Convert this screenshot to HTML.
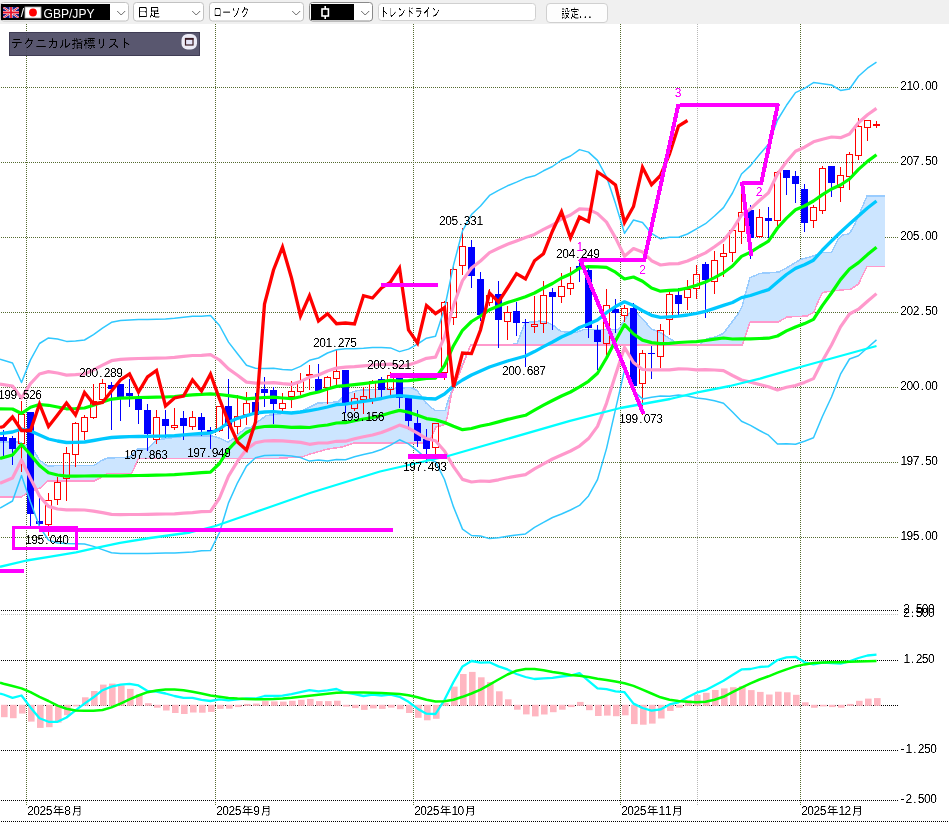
<!DOCTYPE html>
<html lang="ja"><head><meta charset="utf-8"><title>GBP/JPY chart</title>
<style>
html,body{margin:0;padding:0;background:#fff;overflow:hidden}
body{width:949px;height:822px;font-family:"Liberation Sans","IPAGothic",sans-serif}
svg{display:block}
</style></head><body>
<svg width="949" height="822" viewBox="0 0 949 822" shape-rendering="crispEdges">
<defs><filter id="px" x="0" y="0" width="100%" height="100%" filterUnits="userSpaceOnUse" color-interpolation-filters="sRGB"><feComponentTransfer><feFuncA type="linear" slope="2.4" intercept="-0.7"/></feComponentTransfer></filter></defs>
<rect x="0" y="0" width="949" height="822" fill="#ffffff"/>
<g stroke="#556b2f" stroke-width="1" stroke-dasharray="1 1" fill="none">
<line x1="1" y1="87.5" x2="898" y2="87.5"/>
<line x1="1" y1="162.5" x2="898" y2="162.5"/>
<line x1="1" y1="237.5" x2="898" y2="237.5"/>
<line x1="1" y1="312.5" x2="898" y2="312.5"/>
<line x1="1" y1="387.5" x2="898" y2="387.5"/>
<line x1="1" y1="462.5" x2="898" y2="462.5"/>
<line x1="1" y1="537.5" x2="898" y2="537.5"/>
<line x1="26.5" y1="24" x2="26.5" y2="805"/>
<line x1="215.5" y1="24" x2="215.5" y2="805"/>
<line x1="413.5" y1="24" x2="413.5" y2="805"/>
<line x1="620.5" y1="24" x2="620.5" y2="805"/>
<line x1="800.5" y1="24" x2="800.5" y2="805"/>
</g>
<line x1="697.5" y1="24" x2="697.5" y2="805" stroke="#b8b8b8" stroke-width="1" stroke-dasharray="1 1"/>
<g stroke="#000000" stroke-width="1" stroke-dasharray="1 1" fill="none">
<line x1="1" y1="610.5" x2="898" y2="610.5"/>
<line x1="1" y1="660.5" x2="898" y2="660.5"/>
<line x1="1" y1="705.5" x2="898" y2="705.5"/>
<line x1="1" y1="750.5" x2="898" y2="750.5"/>
<line x1="1" y1="800.5" x2="898" y2="800.5"/>
<line x1="1" y1="821.5" x2="949" y2="821.5"/>
</g>
<line x1="1" y1="614.5" x2="898" y2="614.5" stroke="#c0c0c0" stroke-width="1" stroke-dasharray="1 1"/>
<polygon points="0.0,441.8 19.0,441.8 21.5,443.3 27.0,446.5 34.0,450.6 39.0,459.5 40.0,460.3 47.0,465.8 48.0,465.8 94.0,465.5 100.0,461.5 101.0,460.8 107.6,458.0 120.0,457.6 130.0,457.0 131.6,455.4 138.0,449.0 138.5,449.0 148.0,449.0 156.0,440.0 170.0,438.0 190.0,435.8 210.4,435.8 216.7,437.0 228.0,442.0 233.0,439.0 240.8,432.0 245.8,428.2 251.0,427.6 256.0,423.0 266.0,415.8 271.0,415.0 274.0,414.6 302.0,411.0 310.0,407.0 318.0,403.0 328.0,402.5 338.0,402.0 342.0,398.0 346.0,394.0 354.0,391.5 357.7,390.4 375.4,389.4 403.0,387.8 411.0,387.6 417.0,390.4 426.0,403.0 428.6,405.2 435.0,410.6 436.0,410.6 445.0,410.6 447.6,402.4 449.0,398.0 451.4,392.0 470.6,345.0 512.5,344.4 517.0,343.7 525.0,322.8 540.0,321.0 547.6,322.4 554.0,326.0 561.0,331.6 569.0,332.0 576.7,332.3 584.0,329.5 618.5,329.5 628.6,314.0 633.5,310.0 638.0,314.0 651.5,329.0 660.0,332.3 672.7,340.5 677.0,344.4 700.0,344.4 706.8,338.6 714.4,337.3 723.3,333.5 731.0,323.4 738.5,313.3 742.3,305.7 746.0,291.8 749.9,277.8 760.0,273.4 768.9,272.8 778.0,272.1 779.0,272.0 787.0,267.6 788.0,267.0 800.4,259.5 807.0,257.7 813.5,256.0 814.0,255.8 817.0,254.6 822.5,252.5 831.5,252.5 838.0,239.7 840.5,237.3 843.0,235.0 849.5,233.7 850.5,231.9 855.0,224.0 858.5,215.8 861.0,210.0 867.0,196.0 884.7,196.0 884.7,266.5 867.0,266.5 861.0,278.9 858.5,284.0 855.0,286.4 850.5,289.4 849.5,289.5 843.0,289.9 840.5,290.0 838.0,290.3 831.5,291.2 822.5,292.4 817.0,304.0 814.0,312.0 813.5,312.3 807.0,316.0 800.4,316.3 788.0,316.9 787.0,317.0 779.0,321.6 778.0,322.2 768.9,322.2 760.0,322.2 749.9,322.2 746.0,333.9 742.3,345.0 738.5,345.0 731.0,345.0 723.3,345.0 714.4,345.0 706.8,345.0 700.0,345.0 677.0,345.0 672.7,345.0 660.0,345.0 651.5,345.0 638.0,345.0 633.5,345.0 628.6,345.0 618.5,345.0 584.0,345.0 576.7,345.0 569.0,345.0 561.0,345.0 554.0,345.0 547.6,345.0 540.0,345.0 525.0,345.0 517.0,345.0 512.5,345.0 470.6,345.0 451.4,394.0 449.0,407.7 447.6,415.7 445.0,424.5 436.0,427.0 435.0,429.2 428.6,443.0 426.0,443.0 417.0,443.0 411.0,443.0 403.0,443.0 375.4,443.0 357.7,443.0 354.0,443.0 346.0,445.7 342.0,447.0 338.0,447.6 328.0,449.0 318.0,451.8 310.0,454.0 302.0,457.0 274.0,458.5 271.0,458.5 266.0,458.5 256.0,458.5 251.0,458.5 245.8,458.5 240.8,458.5 233.0,458.5 228.0,458.5 216.7,458.5 210.4,458.5 190.0,458.5 170.0,458.5 156.0,458.5 148.0,458.5 138.5,458.5 138.0,459.6 131.6,473.5 130.0,473.5 120.0,473.5 107.6,473.4 101.0,477.4 100.0,478.0 94.0,481.0 48.0,481.0 47.0,481.9 40.0,488.0 39.0,488.4 34.0,490.3 27.0,493.0 21.5,497.0 19.0,497.0 0.0,497.0" fill="#cce5ff" stroke="none"/>
<polyline points="0.0,441.8 19.0,441.8 34.0,450.6 39.0,459.5 47.0,465.8 94.0,465.5 101.0,460.8 107.6,458.0 120.0,457.6 130.0,457.0 138.0,449.0 148.0,449.0 156.0,440.0 170.0,438.0 190.0,435.8 210.4,435.8 216.7,437.0 228.0,442.0 233.0,439.0 240.8,432.0 245.8,428.2 251.0,427.6 256.0,423.0 266.0,415.8 271.0,415.0 302.0,411.0 310.0,407.0 318.0,403.0 338.0,402.0 346.0,394.0 357.7,390.4 375.4,389.4 403.0,387.8 411.0,387.6 417.0,390.4 426.0,403.0 435.0,410.6 445.0,410.6 449.0,398.0 451.4,392.0 470.6,345.0 512.5,344.4 517.0,343.7 525.0,322.8 540.0,321.0 547.6,322.4 554.0,326.0 561.0,331.6 569.0,332.0 576.7,332.3 584.0,329.5 618.5,329.5 628.6,314.0 633.5,310.0 638.0,314.0 651.5,329.0 660.0,332.3 672.7,340.5 677.0,344.4 700.0,344.4 706.8,338.6 714.4,337.3 723.3,333.5 731.0,323.4 738.5,313.3 742.3,305.7 746.0,291.8 749.9,277.8 760.0,273.4 768.9,272.8 779.0,272.0 788.0,267.0 800.4,259.5 813.5,256.0 822.5,252.5 831.5,252.5 838.0,239.7 843.0,235.0 849.5,233.7 855.0,224.0 861.0,210.0 867.0,196.0 884.7,196.0" fill="none" stroke="#99ccff" stroke-width="1.5" shape-rendering="crispEdges" stroke-linejoin="round" />
<polyline points="0.0,497.0 21.5,497.0 27.0,493.0 40.0,488.0 48.0,481.0 94.0,481.0 100.0,478.0 107.6,473.4 131.6,473.5 138.5,458.5 274.0,458.5 302.0,457.0 310.0,454.0 328.0,449.0 342.0,447.0 354.0,443.0 428.6,443.0 436.0,427.0 445.0,424.5 447.6,415.7 451.4,394.0 470.6,345.0 742.3,345.0 749.9,322.2 778.0,322.2 787.0,317.0 807.0,316.0 814.0,312.0 817.0,304.0 822.5,292.4 840.5,290.0 850.5,289.4 858.5,284.0 867.0,266.5 884.7,266.5" fill="none" stroke="#ff99cc" stroke-width="1.5" shape-rendering="crispEdges" stroke-linejoin="round" />
<line x1="3.5" y1="430.4" x2="3.5" y2="455.7" stroke="#0000ff" stroke-width="1"/>
<rect x="0" y="436.7" width="7" height="3.8" fill="#0000ff"/>
<line x1="12.5" y1="436.0" x2="12.5" y2="464.6" stroke="#0000ff" stroke-width="1"/>
<rect x="9" y="438.0" width="7" height="10.7" fill="#0000ff"/>
<line x1="21.5" y1="401.3" x2="21.5" y2="414.0" stroke="#ff0000" stroke-width="1"/>
<line x1="21.5" y1="443.7" x2="21.5" y2="472.0" stroke="#ff0000" stroke-width="1"/>
<rect x="18.5" y="414.0" width="6" height="29.7" fill="none" stroke="#ff0000" stroke-width="1"/>
<line x1="30.5" y1="412.0" x2="30.5" y2="527.0" stroke="#0000ff" stroke-width="1"/>
<rect x="27" y="412.0" width="7" height="102.0" fill="#0000ff"/>
<line x1="39.5" y1="498.0" x2="39.5" y2="531.0" stroke="#0000ff" stroke-width="1"/>
<rect x="36" y="521.0" width="7" height="3.0" fill="#0000ff"/>
<line x1="48.5" y1="493.0" x2="48.5" y2="500.0" stroke="#ff0000" stroke-width="1"/>
<line x1="48.5" y1="524.0" x2="48.5" y2="536.0" stroke="#ff0000" stroke-width="1"/>
<rect x="45.5" y="500.0" width="6" height="24.0" fill="none" stroke="#ff0000" stroke-width="1"/>
<line x1="57.5" y1="477.0" x2="57.5" y2="482.4" stroke="#ff0000" stroke-width="1"/>
<line x1="57.5" y1="499.5" x2="57.5" y2="504.5" stroke="#ff0000" stroke-width="1"/>
<rect x="54.5" y="482.4" width="6" height="17.1" fill="none" stroke="#ff0000" stroke-width="1"/>
<line x1="66.5" y1="447.2" x2="66.5" y2="453.4" stroke="#ff0000" stroke-width="1"/>
<line x1="66.5" y1="478.5" x2="66.5" y2="500.6" stroke="#ff0000" stroke-width="1"/>
<rect x="63.5" y="453.4" width="6" height="25.1" fill="none" stroke="#ff0000" stroke-width="1"/>
<line x1="75.5" y1="422.0" x2="75.5" y2="423.4" stroke="#ff0000" stroke-width="1"/>
<line x1="75.5" y1="454.4" x2="75.5" y2="466.5" stroke="#ff0000" stroke-width="1"/>
<rect x="72.5" y="423.4" width="6" height="31.0" fill="none" stroke="#ff0000" stroke-width="1"/>
<line x1="84.5" y1="415.0" x2="84.5" y2="417.5" stroke="#ff0000" stroke-width="1"/>
<line x1="84.5" y1="431.0" x2="84.5" y2="440.0" stroke="#ff0000" stroke-width="1"/>
<rect x="81.5" y="417.5" width="6" height="13.5" fill="none" stroke="#ff0000" stroke-width="1"/>
<line x1="93.5" y1="384.0" x2="93.5" y2="401.0" stroke="#ff0000" stroke-width="1"/>
<line x1="93.5" y1="417.5" x2="93.5" y2="418.5" stroke="#ff0000" stroke-width="1"/>
<rect x="90.5" y="401.0" width="6" height="16.5" fill="none" stroke="#ff0000" stroke-width="1"/>
<line x1="102.5" y1="379.0" x2="102.5" y2="383.7" stroke="#ff0000" stroke-width="1"/>
<rect x="99.5" y="383.7" width="6" height="15.8" fill="none" stroke="#ff0000" stroke-width="1"/>
<line x1="111.5" y1="381.7" x2="111.5" y2="429.7" stroke="#0000ff" stroke-width="1"/>
<rect x="108" y="385.0" width="7" height="4.0" fill="#0000ff"/>
<line x1="120.5" y1="384.0" x2="120.5" y2="420.7" stroke="#0000ff" stroke-width="1"/>
<rect x="117" y="384.0" width="7" height="12.7" fill="#0000ff"/>
<line x1="129.5" y1="378.7" x2="129.5" y2="406.7" stroke="#0000ff" stroke-width="1"/>
<rect x="126" y="393.0" width="7" height="2.7" fill="#0000ff"/>
<line x1="138.5" y1="395.0" x2="138.5" y2="423.7" stroke="#0000ff" stroke-width="1"/>
<rect x="135" y="399.0" width="7" height="10.5" fill="#0000ff"/>
<line x1="147.5" y1="404.0" x2="147.5" y2="451.0" stroke="#0000ff" stroke-width="1"/>
<rect x="144" y="409.7" width="7" height="24.3" fill="#0000ff"/>
<line x1="156.5" y1="410.0" x2="156.5" y2="417.5" stroke="#ff0000" stroke-width="1"/>
<line x1="156.5" y1="439.0" x2="156.5" y2="443.7" stroke="#ff0000" stroke-width="1"/>
<rect x="153.5" y="417.5" width="6" height="21.5" fill="none" stroke="#ff0000" stroke-width="1"/>
<line x1="165.5" y1="409.7" x2="165.5" y2="438.0" stroke="#0000ff" stroke-width="1"/>
<rect x="162" y="419.0" width="7" height="6.7" fill="#0000ff"/>
<line x1="174.5" y1="408.0" x2="174.5" y2="425.5" stroke="#ff0000" stroke-width="1"/>
<line x1="174.5" y1="427.5" x2="174.5" y2="429.7" stroke="#ff0000" stroke-width="1"/>
<rect x="171.5" y="425.5" width="6" height="2.0" fill="none" stroke="#ff0000" stroke-width="1"/>
<line x1="183.5" y1="411.0" x2="183.5" y2="439.5" stroke="#0000ff" stroke-width="1"/>
<rect x="180" y="418.0" width="7" height="7.7" fill="#0000ff"/>
<line x1="192.5" y1="411.0" x2="192.5" y2="417.5" stroke="#ff0000" stroke-width="1"/>
<line x1="192.5" y1="426.7" x2="192.5" y2="430.0" stroke="#ff0000" stroke-width="1"/>
<rect x="189.5" y="417.5" width="6" height="9.2" fill="none" stroke="#ff0000" stroke-width="1"/>
<line x1="201.5" y1="412.5" x2="201.5" y2="436.0" stroke="#0000ff" stroke-width="1"/>
<rect x="198" y="417.0" width="7" height="12.7" fill="#0000ff"/>
<line x1="210.5" y1="426.5" x2="210.5" y2="449.0" stroke="#0000ff" stroke-width="1"/>
<rect x="207" y="429.7" width="7" height="2.0" fill="#0000ff"/>
<line x1="219.5" y1="430.5" x2="219.5" y2="432.0" stroke="#ff0000" stroke-width="1"/>
<rect x="216.5" y="406.0" width="6" height="24.5" fill="none" stroke="#ff0000" stroke-width="1"/>
<line x1="228.5" y1="379.0" x2="228.5" y2="438.5" stroke="#0000ff" stroke-width="1"/>
<rect x="225" y="406.0" width="7" height="20.0" fill="#0000ff"/>
<line x1="237.5" y1="395.0" x2="237.5" y2="416.5" stroke="#ff0000" stroke-width="1"/>
<line x1="237.5" y1="426.5" x2="237.5" y2="433.7" stroke="#ff0000" stroke-width="1"/>
<rect x="234.5" y="416.5" width="6" height="10.0" fill="none" stroke="#ff0000" stroke-width="1"/>
<line x1="246.5" y1="392.0" x2="246.5" y2="403.0" stroke="#ff0000" stroke-width="1"/>
<line x1="246.5" y1="414.5" x2="246.5" y2="425.0" stroke="#ff0000" stroke-width="1"/>
<rect x="243.5" y="403.0" width="6" height="11.5" fill="none" stroke="#ff0000" stroke-width="1"/>
<line x1="255.5" y1="393.0" x2="255.5" y2="422.0" stroke="#0000ff" stroke-width="1"/>
<rect x="252" y="402.0" width="7" height="13.0" fill="#0000ff"/>
<line x1="264.5" y1="376.7" x2="264.5" y2="406.5" stroke="#0000ff" stroke-width="1"/>
<rect x="261" y="389.0" width="7" height="4.0" fill="#0000ff"/>
<line x1="273.5" y1="387.0" x2="273.5" y2="423.7" stroke="#0000ff" stroke-width="1"/>
<rect x="270" y="389.5" width="7" height="14.0" fill="#0000ff"/>
<line x1="282.5" y1="393.0" x2="282.5" y2="403.0" stroke="#ff0000" stroke-width="1"/>
<line x1="282.5" y1="408.0" x2="282.5" y2="410.7" stroke="#ff0000" stroke-width="1"/>
<rect x="279.5" y="403.0" width="6" height="5.0" fill="none" stroke="#ff0000" stroke-width="1"/>
<line x1="291.5" y1="381.0" x2="291.5" y2="391.5" stroke="#ff0000" stroke-width="1"/>
<line x1="291.5" y1="396.0" x2="291.5" y2="408.0" stroke="#ff0000" stroke-width="1"/>
<rect x="288.5" y="391.5" width="6" height="4.5" fill="none" stroke="#ff0000" stroke-width="1"/>
<line x1="300.5" y1="373.0" x2="300.5" y2="381.0" stroke="#ff0000" stroke-width="1"/>
<line x1="300.5" y1="391.7" x2="300.5" y2="395.0" stroke="#ff0000" stroke-width="1"/>
<rect x="297.5" y="381.0" width="6" height="10.7" fill="none" stroke="#ff0000" stroke-width="1"/>
<line x1="309.5" y1="365.0" x2="309.5" y2="374.5" stroke="#ff0000" stroke-width="1"/>
<line x1="309.5" y1="375.7" x2="309.5" y2="390.0" stroke="#ff0000" stroke-width="1"/>
<rect x="306" y="374" width="7" height="2" fill="#ff0000"/>
<line x1="318.5" y1="364.0" x2="318.5" y2="392.0" stroke="#0000ff" stroke-width="1"/>
<rect x="315" y="378.7" width="7" height="12.3" fill="#0000ff"/>
<line x1="327.5" y1="376.0" x2="327.5" y2="377.0" stroke="#ff0000" stroke-width="1"/>
<line x1="327.5" y1="387.0" x2="327.5" y2="403.7" stroke="#ff0000" stroke-width="1"/>
<rect x="324.5" y="377.0" width="6" height="10.0" fill="none" stroke="#ff0000" stroke-width="1"/>
<line x1="336.5" y1="349.3" x2="336.5" y2="371.0" stroke="#ff0000" stroke-width="1"/>
<line x1="336.5" y1="378.0" x2="336.5" y2="385.0" stroke="#ff0000" stroke-width="1"/>
<rect x="333.5" y="371.0" width="6" height="7.0" fill="none" stroke="#ff0000" stroke-width="1"/>
<line x1="345.5" y1="370.0" x2="345.5" y2="412.8" stroke="#0000ff" stroke-width="1"/>
<rect x="342" y="370.0" width="7" height="34.5" fill="#0000ff"/>
<line x1="354.5" y1="393.0" x2="354.5" y2="398.0" stroke="#ff0000" stroke-width="1"/>
<line x1="354.5" y1="408.0" x2="354.5" y2="411.0" stroke="#ff0000" stroke-width="1"/>
<rect x="351.5" y="398.0" width="6" height="10.0" fill="none" stroke="#ff0000" stroke-width="1"/>
<line x1="363.5" y1="387.0" x2="363.5" y2="396.5" stroke="#ff0000" stroke-width="1"/>
<line x1="363.5" y1="399.5" x2="363.5" y2="414.0" stroke="#ff0000" stroke-width="1"/>
<rect x="360.5" y="396.5" width="6" height="3.0" fill="none" stroke="#ff0000" stroke-width="1"/>
<line x1="372.5" y1="380.0" x2="372.5" y2="381.0" stroke="#ff0000" stroke-width="1"/>
<line x1="372.5" y1="398.0" x2="372.5" y2="404.0" stroke="#ff0000" stroke-width="1"/>
<rect x="369.5" y="381.0" width="6" height="17.0" fill="none" stroke="#ff0000" stroke-width="1"/>
<line x1="381.5" y1="377.0" x2="381.5" y2="396.7" stroke="#0000ff" stroke-width="1"/>
<rect x="378" y="379.0" width="7" height="11.4" fill="#0000ff"/>
<line x1="390.5" y1="371.9" x2="390.5" y2="375.2" stroke="#ff0000" stroke-width="1"/>
<line x1="390.5" y1="389.4" x2="390.5" y2="394.8" stroke="#ff0000" stroke-width="1"/>
<rect x="387.5" y="375.2" width="6" height="14.2" fill="none" stroke="#ff0000" stroke-width="1"/>
<line x1="399.5" y1="374.0" x2="399.5" y2="407.5" stroke="#0000ff" stroke-width="1"/>
<rect x="396" y="377.7" width="7" height="20.3" fill="#0000ff"/>
<line x1="408.5" y1="396.0" x2="408.5" y2="430.0" stroke="#0000ff" stroke-width="1"/>
<rect x="405" y="398.0" width="7" height="23.0" fill="#0000ff"/>
<line x1="417.5" y1="410.0" x2="417.5" y2="447.3" stroke="#0000ff" stroke-width="1"/>
<rect x="414" y="423.3" width="7" height="17.7" fill="#0000ff"/>
<line x1="426.5" y1="429.0" x2="426.5" y2="462.7" stroke="#0000ff" stroke-width="1"/>
<rect x="423" y="439.0" width="7" height="9.6" fill="#0000ff"/>
<line x1="435.5" y1="447.3" x2="435.5" y2="454.0" stroke="#ff0000" stroke-width="1"/>
<rect x="432.5" y="423.3" width="6" height="24.0" fill="none" stroke="#ff0000" stroke-width="1"/>
<line x1="444.5" y1="301.0" x2="444.5" y2="302.0" stroke="#ff0000" stroke-width="1"/>
<line x1="444.5" y1="372.0" x2="444.5" y2="380.0" stroke="#ff0000" stroke-width="1"/>
<rect x="441.5" y="302.0" width="6" height="70.0" fill="none" stroke="#ff0000" stroke-width="1"/>
<line x1="453.5" y1="265.0" x2="453.5" y2="269.0" stroke="#ff0000" stroke-width="1"/>
<line x1="453.5" y1="317.0" x2="453.5" y2="325.0" stroke="#ff0000" stroke-width="1"/>
<rect x="450.5" y="269.0" width="6" height="48.0" fill="none" stroke="#ff0000" stroke-width="1"/>
<line x1="462.5" y1="227.6" x2="462.5" y2="246.5" stroke="#ff0000" stroke-width="1"/>
<line x1="462.5" y1="265.5" x2="462.5" y2="275.0" stroke="#ff0000" stroke-width="1"/>
<rect x="459.5" y="246.5" width="6" height="19.0" fill="none" stroke="#ff0000" stroke-width="1"/>
<line x1="471.5" y1="240.0" x2="471.5" y2="287.7" stroke="#0000ff" stroke-width="1"/>
<rect x="468" y="247.0" width="7" height="29.0" fill="#0000ff"/>
<line x1="480.5" y1="272.0" x2="480.5" y2="321.0" stroke="#0000ff" stroke-width="1"/>
<rect x="477" y="279.0" width="7" height="36.0" fill="#0000ff"/>
<line x1="489.5" y1="289.0" x2="489.5" y2="295.7" stroke="#ff0000" stroke-width="1"/>
<line x1="489.5" y1="302.0" x2="489.5" y2="306.0" stroke="#ff0000" stroke-width="1"/>
<rect x="486.5" y="295.7" width="6" height="6.3" fill="none" stroke="#ff0000" stroke-width="1"/>
<line x1="498.5" y1="281.0" x2="498.5" y2="348.0" stroke="#0000ff" stroke-width="1"/>
<rect x="495" y="294.0" width="7" height="26.0" fill="#0000ff"/>
<line x1="507.5" y1="306.0" x2="507.5" y2="312.4" stroke="#ff0000" stroke-width="1"/>
<line x1="507.5" y1="321.4" x2="507.5" y2="340.0" stroke="#ff0000" stroke-width="1"/>
<rect x="504.5" y="312.4" width="6" height="9.0" fill="none" stroke="#ff0000" stroke-width="1"/>
<line x1="516.5" y1="302.0" x2="516.5" y2="336.0" stroke="#0000ff" stroke-width="1"/>
<rect x="513" y="311.4" width="7" height="11.2" fill="#0000ff"/>
<line x1="525.5" y1="319.0" x2="525.5" y2="367.0" stroke="#0000ff" stroke-width="1"/>
<rect x="522" y="322.0" width="7" height="1.0" fill="#0000ff"/>
<line x1="534.5" y1="296.0" x2="534.5" y2="324.0" stroke="#ff0000" stroke-width="1"/>
<line x1="534.5" y1="326.0" x2="534.5" y2="333.0" stroke="#ff0000" stroke-width="1"/>
<rect x="531.5" y="324.0" width="6" height="2.0" fill="none" stroke="#ff0000" stroke-width="1"/>
<line x1="543.5" y1="281.0" x2="543.5" y2="295.0" stroke="#ff0000" stroke-width="1"/>
<line x1="543.5" y1="323.6" x2="543.5" y2="333.0" stroke="#ff0000" stroke-width="1"/>
<rect x="540.5" y="295.0" width="6" height="28.6" fill="none" stroke="#ff0000" stroke-width="1"/>
<line x1="552.5" y1="288.0" x2="552.5" y2="329.7" stroke="#0000ff" stroke-width="1"/>
<rect x="549" y="292.4" width="7" height="4.2" fill="#0000ff"/>
<line x1="561.5" y1="272.8" x2="561.5" y2="286.5" stroke="#ff0000" stroke-width="1"/>
<line x1="561.5" y1="296.6" x2="561.5" y2="303.0" stroke="#ff0000" stroke-width="1"/>
<rect x="558.5" y="286.5" width="6" height="10.1" fill="none" stroke="#ff0000" stroke-width="1"/>
<line x1="570.5" y1="267.0" x2="570.5" y2="283.3" stroke="#ff0000" stroke-width="1"/>
<line x1="570.5" y1="288.6" x2="570.5" y2="295.0" stroke="#ff0000" stroke-width="1"/>
<rect x="567.5" y="283.3" width="6" height="5.3" fill="none" stroke="#ff0000" stroke-width="1"/>
<line x1="579.5" y1="260.0" x2="579.5" y2="281.6" stroke="#0000ff" stroke-width="1"/>
<rect x="576" y="266.0" width="7" height="2.5" fill="#0000ff"/>
<line x1="588.5" y1="268.0" x2="588.5" y2="338.0" stroke="#0000ff" stroke-width="1"/>
<rect x="585" y="269.6" width="7" height="58.4" fill="#0000ff"/>
<line x1="597.5" y1="325.0" x2="597.5" y2="370.0" stroke="#0000ff" stroke-width="1"/>
<rect x="594" y="330.0" width="7" height="12.0" fill="#0000ff"/>
<line x1="606.5" y1="289.0" x2="606.5" y2="305.4" stroke="#ff0000" stroke-width="1"/>
<line x1="606.5" y1="343.0" x2="606.5" y2="355.0" stroke="#ff0000" stroke-width="1"/>
<rect x="603.5" y="305.4" width="6" height="37.6" fill="none" stroke="#ff0000" stroke-width="1"/>
<line x1="615.5" y1="299.0" x2="615.5" y2="333.0" stroke="#0000ff" stroke-width="1"/>
<rect x="612" y="309.0" width="7" height="4.0" fill="#0000ff"/>
<line x1="624.5" y1="305.0" x2="624.5" y2="308.4" stroke="#ff0000" stroke-width="1"/>
<line x1="624.5" y1="315.6" x2="624.5" y2="322.4" stroke="#ff0000" stroke-width="1"/>
<rect x="621.5" y="308.4" width="6" height="7.2" fill="none" stroke="#ff0000" stroke-width="1"/>
<line x1="633.5" y1="303.0" x2="633.5" y2="388.0" stroke="#0000ff" stroke-width="1"/>
<rect x="630" y="308.0" width="7" height="78.0" fill="#0000ff"/>
<line x1="642.5" y1="350.0" x2="642.5" y2="353.4" stroke="#ff0000" stroke-width="1"/>
<line x1="642.5" y1="383.0" x2="642.5" y2="415.3" stroke="#ff0000" stroke-width="1"/>
<rect x="639.5" y="353.4" width="6" height="29.6" fill="none" stroke="#ff0000" stroke-width="1"/>
<line x1="651.5" y1="346.0" x2="651.5" y2="379.0" stroke="#0000ff" stroke-width="1"/>
<rect x="648" y="353.0" width="7" height="1.0" fill="#0000ff"/>
<line x1="660.5" y1="324.0" x2="660.5" y2="330.4" stroke="#ff0000" stroke-width="1"/>
<line x1="660.5" y1="356.4" x2="660.5" y2="368.0" stroke="#ff0000" stroke-width="1"/>
<rect x="657.5" y="330.4" width="6" height="26.0" fill="none" stroke="#ff0000" stroke-width="1"/>
<line x1="669.5" y1="292.0" x2="669.5" y2="294.0" stroke="#ff0000" stroke-width="1"/>
<line x1="669.5" y1="319.4" x2="669.5" y2="335.0" stroke="#ff0000" stroke-width="1"/>
<rect x="666.5" y="294.0" width="6" height="25.4" fill="none" stroke="#ff0000" stroke-width="1"/>
<line x1="678.5" y1="288.0" x2="678.5" y2="315.0" stroke="#0000ff" stroke-width="1"/>
<rect x="675" y="295.0" width="7" height="8.5" fill="#0000ff"/>
<line x1="687.5" y1="280.0" x2="687.5" y2="289.0" stroke="#ff0000" stroke-width="1"/>
<line x1="687.5" y1="297.7" x2="687.5" y2="309.5" stroke="#ff0000" stroke-width="1"/>
<rect x="684.5" y="289.0" width="6" height="8.7" fill="none" stroke="#ff0000" stroke-width="1"/>
<line x1="696.5" y1="265.0" x2="696.5" y2="274.5" stroke="#ff0000" stroke-width="1"/>
<line x1="696.5" y1="288.0" x2="696.5" y2="299.0" stroke="#ff0000" stroke-width="1"/>
<rect x="693.5" y="274.5" width="6" height="13.5" fill="none" stroke="#ff0000" stroke-width="1"/>
<line x1="705.5" y1="262.0" x2="705.5" y2="318.0" stroke="#0000ff" stroke-width="1"/>
<rect x="702" y="264.0" width="7" height="15.5" fill="#0000ff"/>
<line x1="714.5" y1="251.0" x2="714.5" y2="260.0" stroke="#ff0000" stroke-width="1"/>
<line x1="714.5" y1="281.0" x2="714.5" y2="294.0" stroke="#ff0000" stroke-width="1"/>
<rect x="711.5" y="260.0" width="6" height="21.0" fill="none" stroke="#ff0000" stroke-width="1"/>
<line x1="723.5" y1="244.0" x2="723.5" y2="253.5" stroke="#ff0000" stroke-width="1"/>
<line x1="723.5" y1="256.0" x2="723.5" y2="276.6" stroke="#ff0000" stroke-width="1"/>
<rect x="720.5" y="253.5" width="6" height="2.5" fill="none" stroke="#ff0000" stroke-width="1"/>
<line x1="732.5" y1="252.0" x2="732.5" y2="262.0" stroke="#ff0000" stroke-width="1"/>
<rect x="729.5" y="230.4" width="6" height="21.6" fill="none" stroke="#ff0000" stroke-width="1"/>
<line x1="741.5" y1="187.0" x2="741.5" y2="212.5" stroke="#ff0000" stroke-width="1"/>
<line x1="741.5" y1="231.0" x2="741.5" y2="244.0" stroke="#ff0000" stroke-width="1"/>
<rect x="738.5" y="212.5" width="6" height="18.5" fill="none" stroke="#ff0000" stroke-width="1"/>
<line x1="750.5" y1="205.0" x2="750.5" y2="259.0" stroke="#0000ff" stroke-width="1"/>
<rect x="747" y="210.0" width="7" height="27.5" fill="#0000ff"/>
<line x1="759.5" y1="209.0" x2="759.5" y2="217.0" stroke="#ff0000" stroke-width="1"/>
<line x1="759.5" y1="236.0" x2="759.5" y2="237.5" stroke="#ff0000" stroke-width="1"/>
<rect x="756.5" y="217.0" width="6" height="19.0" fill="none" stroke="#ff0000" stroke-width="1"/>
<line x1="768.5" y1="207.0" x2="768.5" y2="237.5" stroke="#0000ff" stroke-width="1"/>
<rect x="765" y="218.0" width="7" height="2.5" fill="#0000ff"/>
<line x1="777.5" y1="171.0" x2="777.5" y2="172.0" stroke="#ff0000" stroke-width="1"/>
<line x1="777.5" y1="220.0" x2="777.5" y2="226.0" stroke="#ff0000" stroke-width="1"/>
<rect x="774.5" y="172.0" width="6" height="48.0" fill="none" stroke="#ff0000" stroke-width="1"/>
<line x1="786.5" y1="170.0" x2="786.5" y2="194.5" stroke="#0000ff" stroke-width="1"/>
<rect x="783" y="170.0" width="7" height="8.4" fill="#0000ff"/>
<line x1="795.5" y1="171.0" x2="795.5" y2="202.5" stroke="#0000ff" stroke-width="1"/>
<rect x="792" y="176.0" width="7" height="8.4" fill="#0000ff"/>
<line x1="804.5" y1="184.0" x2="804.5" y2="232.0" stroke="#0000ff" stroke-width="1"/>
<rect x="801" y="189.0" width="7" height="33.5" fill="#0000ff"/>
<line x1="813.5" y1="204.5" x2="813.5" y2="207.0" stroke="#ff0000" stroke-width="1"/>
<line x1="813.5" y1="220.5" x2="813.5" y2="227.5" stroke="#ff0000" stroke-width="1"/>
<rect x="810.5" y="207.0" width="6" height="13.5" fill="none" stroke="#ff0000" stroke-width="1"/>
<line x1="822.5" y1="166.0" x2="822.5" y2="168.0" stroke="#ff0000" stroke-width="1"/>
<line x1="822.5" y1="210.5" x2="822.5" y2="213.7" stroke="#ff0000" stroke-width="1"/>
<rect x="819.5" y="168.0" width="6" height="42.5" fill="none" stroke="#ff0000" stroke-width="1"/>
<line x1="831.5" y1="166.0" x2="831.5" y2="196.7" stroke="#0000ff" stroke-width="1"/>
<rect x="828" y="166.0" width="7" height="17.4" fill="#0000ff"/>
<line x1="840.5" y1="167.0" x2="840.5" y2="175.4" stroke="#ff0000" stroke-width="1"/>
<line x1="840.5" y1="187.4" x2="840.5" y2="201.5" stroke="#ff0000" stroke-width="1"/>
<rect x="837.5" y="175.4" width="6" height="12.0" fill="none" stroke="#ff0000" stroke-width="1"/>
<line x1="849.5" y1="152.0" x2="849.5" y2="154.0" stroke="#ff0000" stroke-width="1"/>
<line x1="849.5" y1="176.6" x2="849.5" y2="189.5" stroke="#ff0000" stroke-width="1"/>
<rect x="846.5" y="154.0" width="6" height="22.6" fill="none" stroke="#ff0000" stroke-width="1"/>
<line x1="858.5" y1="118.0" x2="858.5" y2="126.0" stroke="#ff0000" stroke-width="1"/>
<line x1="858.5" y1="155.5" x2="858.5" y2="159.7" stroke="#ff0000" stroke-width="1"/>
<rect x="855.5" y="126.0" width="6" height="29.5" fill="none" stroke="#ff0000" stroke-width="1"/>
<line x1="867.5" y1="120.0" x2="867.5" y2="120.5" stroke="#ff0000" stroke-width="1"/>
<line x1="867.5" y1="127.5" x2="867.5" y2="140.7" stroke="#ff0000" stroke-width="1"/>
<rect x="864.5" y="120.5" width="6" height="7.0" fill="none" stroke="#ff0000" stroke-width="1"/>
<line x1="876.5" y1="120.5" x2="876.5" y2="124.8" stroke="#ff0000" stroke-width="1"/>
<line x1="876.5" y1="124.8" x2="876.5" y2="128.0" stroke="#ff0000" stroke-width="1"/>
<rect x="873" y="124" width="7" height="2" fill="#ff0000"/>
<polyline points="0.0,359.3 12.5,363.0 21.5,382.5 30.5,359.9 39.5,343.5 48.5,337.9 57.5,339.0 66.5,341.4 75.5,340.9 84.5,340.0 93.5,334.6 102.5,328.2 111.5,322.3 120.5,320.6 129.5,320.0 138.5,319.5 147.5,319.4 156.5,319.2 165.5,319.0 174.5,318.3 183.5,317.2 192.5,316.2 201.5,316.2 210.5,315.4 219.5,325.5 228.5,342.1 237.5,353.8 246.5,365.3 255.5,368.3 264.5,368.5 273.5,368.2 282.5,369.4 291.5,370.1 300.5,366.4 309.5,360.3 318.5,358.0 327.5,353.0 336.5,349.8 345.5,348.7 354.5,348.7 363.5,348.2 372.5,347.5 381.5,347.5 390.5,347.9 399.5,351.6 408.5,349.1 417.5,344.1 426.5,338.2 435.5,336.3 444.5,308.5 453.5,265.1 462.5,230.9 471.5,214.5 480.5,206.0 489.5,195.4 498.5,190.3 507.5,185.8 516.5,182.1 525.5,178.1 534.5,175.8 543.5,170.8 552.5,166.5 561.5,160.0 570.5,156.0 579.5,149.6 588.5,152.1 597.5,160.4 606.5,176.8 615.5,203.6 624.5,233.4 633.5,220.0 642.5,222.5 651.5,233.4 660.5,238.8 669.5,237.3 678.5,237.3 687.5,234.0 696.5,228.8 705.5,223.7 714.5,216.0 723.5,207.6 732.5,193.0 741.5,174.0 750.5,165.6 759.5,154.5 768.5,144.2 777.5,120.0 786.5,105.3 795.5,92.6 804.5,88.4 813.5,82.6 822.5,83.8 831.5,85.0 840.5,90.4 849.5,89.0 858.5,76.2 867.5,68.2 876.5,62.1" fill="none" stroke="#30c8ff" stroke-width="1.5" shape-rendering="geometricPrecision" stroke-linejoin="round" />
<polyline points="0.0,508.1 12.5,501.0 21.5,475.5 30.5,502.1 39.5,526.5 48.5,540.1 57.5,543.0 66.5,543.6 75.5,543.7 84.5,544.0 93.5,546.4 102.5,549.6 111.5,552.7 120.5,553.4 129.5,553.4 138.5,553.5 147.5,553.4 156.5,553.2 165.5,553.0 174.5,552.9 183.5,552.4 192.5,552.0 201.5,550.8 210.5,550.6 219.5,532.5 228.5,502.9 237.5,482.8 246.5,466.1 255.5,457.7 264.5,455.5 273.5,455.2 282.5,455.2 291.5,455.9 300.5,457.6 309.5,461.1 318.5,460.0 327.5,461.0 336.5,459.6 345.5,459.7 354.5,456.7 363.5,454.4 372.5,452.5 381.5,449.5 390.5,445.1 399.5,439.8 408.5,443.9 417.5,450.9 426.5,458.8 435.5,461.7 444.5,479.5 453.5,506.9 462.5,529.1 471.5,535.5 480.5,536.0 489.5,538.6 498.5,537.7 507.5,536.2 516.5,534.9 525.5,533.9 534.5,527.4 543.5,522.4 552.5,517.5 561.5,514.0 570.5,510.0 579.5,505.4 588.5,495.9 597.5,479.6 606.5,448.6 615.5,409.4 624.5,370.2 633.5,391.0 642.5,398.9 651.5,397.2 660.5,396.0 669.5,396.3 678.5,395.1 687.5,396.0 696.5,398.0 705.5,398.9 714.5,400.8 723.5,403.2 732.5,412.0 741.5,421.2 750.5,425.4 759.5,430.5 768.5,435.2 777.5,444.0 786.5,443.7 795.5,444.2 804.5,441.2 813.5,437.8 822.5,416.2 831.5,397.0 840.5,374.2 849.5,359.0 858.5,355.8 867.5,347.8 876.5,339.9" fill="none" stroke="#30c8ff" stroke-width="1.5" shape-rendering="geometricPrecision" stroke-linejoin="round" />
<polyline points="0.0,384.1 12.5,386.0 21.5,398.0 30.5,383.6 39.5,374.0 48.5,371.6 57.5,373.0 66.5,375.1 75.5,374.7 84.5,374.0 93.5,369.9 102.5,365.1 111.5,360.7 120.5,359.4 129.5,358.9 138.5,358.5 147.5,358.4 156.5,358.2 165.5,358.0 174.5,357.4 183.5,356.4 192.5,355.5 201.5,355.3 210.5,354.6 219.5,360.0 228.5,368.9 237.5,375.3 246.5,382.1 255.5,383.2 264.5,383.0 273.5,382.7 282.5,383.7 291.5,384.4 300.5,381.6 309.5,377.1 318.5,375.0 327.5,371.0 336.5,368.1 345.5,367.2 354.5,366.7 363.5,365.9 372.5,365.0 381.5,364.5 390.5,364.1 399.5,366.3 408.5,364.9 417.5,361.9 426.5,358.3 435.5,357.2 444.5,337.0 453.5,305.4 462.5,280.6 471.5,268.0 480.5,261.0 489.5,252.6 498.5,248.2 507.5,244.2 516.5,240.9 525.5,237.4 534.5,234.4 543.5,229.4 552.5,225.0 561.5,219.0 570.5,215.0 579.5,208.9 588.5,209.4 597.5,213.6 606.5,222.1 615.5,237.9 624.5,256.2 633.5,248.5 642.5,251.9 651.5,260.7 660.5,265.0 669.5,263.8 678.5,263.6 687.5,261.0 696.5,257.0 705.5,252.9 714.5,246.8 723.5,240.2 732.5,229.5 741.5,215.2 750.5,208.9 759.5,200.5 768.5,192.7 777.5,174.0 786.5,161.7 795.5,151.2 804.5,147.2 813.5,141.8 822.5,139.2 831.5,137.0 840.5,137.7 849.5,134.0 858.5,122.8 867.5,114.8 876.5,108.4" fill="none" stroke="#ff99cc" stroke-width="3.2" shape-rendering="geometricPrecision" stroke-linejoin="round" />
<polyline points="0.0,483.3 12.5,478.0 21.5,460.0 30.5,478.4 39.5,496.0 48.5,506.4 57.5,509.0 66.5,509.9 75.5,509.9 84.5,510.0 93.5,511.1 102.5,512.7 111.5,514.3 120.5,514.6 129.5,514.5 138.5,514.5 147.5,514.4 156.5,514.2 165.5,514.0 174.5,513.8 183.5,513.2 192.5,512.7 201.5,511.7 210.5,511.4 219.5,498.0 228.5,476.1 237.5,461.3 246.5,449.3 255.5,442.8 264.5,441.0 273.5,440.7 282.5,440.9 291.5,441.6 300.5,442.4 309.5,444.3 318.5,443.0 327.5,443.0 336.5,441.3 345.5,441.2 354.5,438.7 363.5,436.7 372.5,435.0 381.5,432.5 390.5,428.9 399.5,425.1 408.5,428.1 417.5,433.1 426.5,438.7 435.5,440.8 444.5,451.0 453.5,466.6 462.5,479.4 471.5,482.0 480.5,481.0 489.5,481.4 498.5,479.8 507.5,477.8 516.5,476.1 525.5,474.6 534.5,468.8 543.5,463.8 552.5,459.0 561.5,455.0 570.5,451.0 579.5,446.1 588.5,438.6 597.5,426.4 606.5,403.3 615.5,375.1 624.5,347.4 633.5,362.5 642.5,369.5 651.5,369.9 660.5,369.8 669.5,369.8 678.5,368.8 687.5,369.0 696.5,369.8 705.5,369.7 714.5,370.0 723.5,370.6 732.5,375.5 741.5,380.0 750.5,382.1 759.5,384.5 768.5,386.7 777.5,390.0 786.5,387.3 795.5,385.6 804.5,382.4 813.5,378.6 822.5,360.8 831.5,345.0 840.5,326.9 849.5,314.0 858.5,309.2 867.5,301.2 876.5,293.6" fill="none" stroke="#ff99cc" stroke-width="3.2" shape-rendering="geometricPrecision" stroke-linejoin="round" />
<polyline points="0.0,408.9 12.5,409.0 21.5,413.5 30.5,407.3 39.5,404.5 48.5,405.3 57.5,407.0 66.5,408.8 75.5,408.5 84.5,408.0 93.5,405.2 102.5,402.0 111.5,399.1 120.5,398.2 129.5,397.8 138.5,397.5 147.5,397.4 156.5,397.2 165.5,397.0 174.5,396.5 183.5,395.6 192.5,394.8 201.5,394.4 210.5,393.8 219.5,394.5 228.5,395.7 237.5,396.8 246.5,398.9 255.5,398.1 264.5,397.5 273.5,397.2 282.5,398.0 291.5,398.7 300.5,396.8 309.5,393.9 318.5,392.0 327.5,389.0 336.5,386.4 345.5,385.7 354.5,384.7 363.5,383.6 372.5,382.5 381.5,381.5 390.5,380.3 399.5,381.0 408.5,380.7 417.5,379.7 426.5,378.4 435.5,378.1 444.5,365.5 453.5,345.7 462.5,330.3 471.5,321.5 480.5,316.0 489.5,309.8 498.5,306.1 507.5,302.6 516.5,299.7 525.5,296.7 534.5,293.0 543.5,288.0 552.5,283.5 561.5,278.0 570.5,274.0 579.5,268.2 588.5,266.7 597.5,266.8 606.5,267.4 615.5,272.2 624.5,279.0 633.5,277.0 642.5,281.3 651.5,288.0 660.5,291.2 669.5,290.3 678.5,289.9 687.5,288.0 696.5,285.2 705.5,282.1 714.5,277.6 723.5,272.8 732.5,266.0 741.5,256.4 750.5,252.2 759.5,246.5 768.5,241.2 777.5,228.0 786.5,218.1 795.5,209.8 804.5,206.0 813.5,201.0 822.5,194.6 831.5,189.0 840.5,185.0 849.5,179.0 858.5,169.4 867.5,161.4 876.5,154.7" fill="none" stroke="#00ff00" stroke-width="3.2" shape-rendering="geometricPrecision" stroke-linejoin="round" />
<polyline points="0.0,458.5 12.5,455.0 21.5,444.5 30.5,454.7 39.5,465.5 48.5,472.7 57.5,475.0 66.5,476.2 75.5,476.1 84.5,476.0 93.5,475.8 102.5,475.8 111.5,475.9 120.5,475.8 129.5,475.6 138.5,475.5 147.5,475.4 156.5,475.2 165.5,475.0 174.5,474.7 183.5,474.0 192.5,473.4 201.5,472.6 210.5,472.2 219.5,463.5 228.5,449.3 237.5,439.8 246.5,432.5 255.5,427.9 264.5,426.5 273.5,426.2 282.5,426.6 291.5,427.3 300.5,427.2 309.5,427.5 318.5,426.0 327.5,425.0 336.5,423.0 345.5,422.7 354.5,420.7 363.5,419.0 372.5,417.5 381.5,415.5 390.5,412.7 399.5,410.4 408.5,412.3 417.5,415.3 426.5,418.6 435.5,419.9 444.5,422.5 453.5,426.3 462.5,429.7 471.5,428.5 480.5,426.0 489.5,424.2 498.5,421.9 507.5,419.4 516.5,417.3 525.5,415.3 534.5,410.2 543.5,405.2 552.5,400.5 561.5,396.0 570.5,392.0 579.5,386.8 588.5,381.3 597.5,373.2 606.5,358.0 615.5,340.8 624.5,324.6 633.5,334.0 642.5,340.1 651.5,342.6 660.5,343.6 669.5,343.3 678.5,342.5 687.5,342.0 696.5,341.6 705.5,340.5 714.5,339.2 723.5,338.0 732.5,339.0 741.5,338.8 750.5,338.8 759.5,338.5 768.5,338.2 777.5,336.0 786.5,330.9 795.5,327.0 804.5,323.6 813.5,319.4 822.5,305.4 831.5,293.0 840.5,279.6 849.5,269.0 858.5,262.6 867.5,254.6 876.5,247.3" fill="none" stroke="#00ff00" stroke-width="3.2" shape-rendering="geometricPrecision" stroke-linejoin="round" />
<polyline points="0.0,433.7 12.5,432.0 21.5,429.0 30.5,431.0 39.5,435.0 48.5,439.0 57.5,441.0 66.5,442.5 75.5,442.3 84.5,442.0 93.5,440.5 102.5,438.9 111.5,437.5 120.5,437.0 129.5,436.7 138.5,436.5 147.5,436.4 156.5,436.2 165.5,436.0 174.5,435.6 183.5,434.8 192.5,434.1 201.5,433.5 210.5,433.0 219.5,429.0 228.5,422.5 237.5,418.3 246.5,415.7 255.5,413.0 264.5,412.0 273.5,411.7 282.5,412.3 291.5,413.0 300.5,412.0 309.5,410.7 318.5,409.0 327.5,407.0 336.5,404.7 345.5,404.2 354.5,402.7 363.5,401.3 372.5,400.0 381.5,398.5 390.5,396.5 399.5,395.7 408.5,396.5 417.5,397.5 426.5,398.5 435.5,399.0 444.5,394.0 453.5,386.0 462.5,380.0 471.5,375.0 480.5,371.0 489.5,367.0 498.5,364.0 507.5,361.0 516.5,358.5 525.5,356.0 534.5,351.6 543.5,346.6 552.5,342.0 561.5,337.0 570.5,333.0 579.5,327.5 588.5,324.0 597.5,320.0 606.5,312.7 615.5,306.5 624.5,301.8 633.5,305.5 642.5,310.7 651.5,315.3 660.5,317.4 669.5,316.8 678.5,316.2 687.5,315.0 696.5,313.4 705.5,311.3 714.5,308.4 723.5,305.4 732.5,302.5 741.5,297.6 750.5,295.5 759.5,292.5 768.5,289.7 777.5,282.0 786.5,274.5 795.5,268.4 804.5,264.8 813.5,260.2 822.5,250.0 831.5,241.0 840.5,232.3 849.5,224.0 858.5,216.0 867.5,208.0 876.5,201.0" fill="none" stroke="#00c8ff" stroke-width="3.3" shape-rendering="geometricPrecision" stroke-linejoin="round" />
<polyline points="0.0,566.8 26.6,560.5 50.6,556.7 76.0,552.3 95.0,548.2 120.0,542.8 150.0,538.0 190.0,532.5 215.4,526.0 270.0,507.0 310.0,493.0 380.0,471.5 448.0,456.0 570.0,420.8 620.4,408.0 670.0,399.0 697.5,392.4 730.0,386.0 760.0,378.6 800.4,367.0 876.5,346.0" fill="none" stroke="#00ffff" stroke-width="2.3" shape-rendering="geometricPrecision" stroke-linejoin="round" />
<polyline points="0.0,427.5 3.5,426.5 12.5,417.0 21.5,430.5 30.5,430.5 39.5,404.0 48.5,426.5 57.5,415.0 66.5,403.0 75.5,415.0 84.5,392.5 93.5,404.0 102.5,402.5 111.5,391.0 120.5,380.0 129.5,374.0 138.5,392.0 147.5,377.0 156.5,370.5 165.5,406.0 174.5,398.0 183.5,396.0 192.5,380.0 201.5,391.0 210.5,374.0 219.5,399.0 228.5,422.0 237.5,442.0 246.5,450.0 255.5,422.0 264.5,304.0 273.5,270.0 282.5,247.0 291.5,278.0 300.5,316.0 309.5,295.7 318.5,321.0 327.5,313.7 336.5,323.7 345.5,323.0 354.5,324.0 363.5,295.7 372.5,298.0 381.5,288.0 390.5,282.0 399.5,268.0 408.5,330.0 417.5,343.0 426.5,305.6 435.5,313.6 444.5,307.6 453.5,387.0 462.5,353.0 471.5,353.6 480.5,330.0 489.5,293.0 498.5,302.0 507.5,288.0 516.5,273.7 525.5,279.0 534.5,260.7 543.5,253.7 552.5,231.0 561.5,211.6 570.5,238.0 579.5,217.0 588.5,221.6 597.5,172.0 606.5,178.0 615.5,185.0 624.5,222.5 633.5,206.5 642.5,167.3 651.5,184.7 660.5,175.5 669.5,154.0 678.5,126.0 687.5,120.5" fill="none" stroke="#ff0000" stroke-width="3.3" shape-rendering="geometricPrecision" stroke-linejoin="miter"/>
<line x1="0" y1="570.7" x2="24" y2="570.7" stroke="#ff00ff" stroke-width="4"/>
<rect x="13.9" y="527.5" width="62.3" height="20.5" fill="none" stroke="#ff00ff" stroke-width="3"/>
<line x1="39" y1="530" x2="393" y2="530" stroke="#ff00ff" stroke-width="4"/>
<line x1="408" y1="456.8" x2="446.7" y2="456.8" stroke="#ff00ff" stroke-width="5"/>
<line x1="390" y1="375.4" x2="446.7" y2="375.4" stroke="#ff00ff" stroke-width="4.5"/>
<line x1="381" y1="284.8" x2="438" y2="284.8" stroke="#ff00ff" stroke-width="4.5"/>
<polyline points="580.0,260.0 645.5,260.0" fill="none" stroke="#ff00ff" stroke-width="4" shape-rendering="crispEdges" stroke-linejoin="round" />
<polyline points="644.0,261.0 678.5,104.0" fill="none" stroke="#ff00ff" stroke-width="4" shape-rendering="crispEdges" stroke-linejoin="round" />
<polyline points="680.0,105.0 779.0,105.0" fill="none" stroke="#ff00ff" stroke-width="4" shape-rendering="crispEdges" stroke-linejoin="round" />
<polyline points="778.0,104.0 761.0,184.0" fill="none" stroke="#ff00ff" stroke-width="4" shape-rendering="crispEdges" stroke-linejoin="round" />
<polyline points="741.5,183.0 762.5,183.0" fill="none" stroke="#ff00ff" stroke-width="4" shape-rendering="crispEdges" stroke-linejoin="round" />
<polyline points="742.0,182.0 751.3,256.0" fill="none" stroke="#ff00ff" stroke-width="4" shape-rendering="crispEdges" stroke-linejoin="round" />
<polyline points="580.0,259.0 643.5,414.0" fill="none" stroke="#ff00ff" stroke-width="4" shape-rendering="crispEdges" stroke-linejoin="round" />
<g filter="url(#px)">
<text x="-1.80 4.25 10.45 18.30 22.85 29.05 35.25" y="398.8" fill="#000000" style="font-family:'Liberation Sans','IPAGothic',sans-serif;font-size:12px;font-size:12px">199.526</text>
<text x="79.05 85.25 91.45 99.30 103.85 110.05 116.25" y="376.5" fill="#000000" style="font-family:'Liberation Sans','IPAGothic',sans-serif;font-size:12px;font-size:12px">200.289</text>
<text x="124.20 130.25 136.45 144.30 148.85 155.05 161.25" y="458.8" fill="#000000" style="font-family:'Liberation Sans','IPAGothic',sans-serif;font-size:12px;font-size:12px">197.863</text>
<text x="187.20 193.25 199.45 207.30 211.85 218.05 224.25" y="456.8" fill="#000000" style="font-family:'Liberation Sans','IPAGothic',sans-serif;font-size:12px;font-size:12px">197.949</text>
<text x="25.20 31.25 37.45 45.30 49.85 56.05 62.25" y="543.8" fill="#000000" style="font-family:'Liberation Sans','IPAGothic',sans-serif;font-size:12px;font-size:12px">195.040</text>
<text x="313.05 319.25 325.60 333.30 337.85 344.05 350.25" y="346.8" fill="#000000" style="font-family:'Liberation Sans','IPAGothic',sans-serif;font-size:12px;font-size:12px">201.275</text>
<text x="340.70 346.75 352.95 360.80 365.50 371.55 377.75" y="420.6" fill="#000000" style="font-family:'Liberation Sans','IPAGothic',sans-serif;font-size:12px;font-size:12px">199.156</text>
<text x="367.05 373.25 379.45 387.30 391.85 398.05 404.40" y="369.4" fill="#000000" style="font-family:'Liberation Sans','IPAGothic',sans-serif;font-size:12px;font-size:12px">200.521</text>
<text x="403.20 409.25 415.45 423.30 427.85 434.05 440.25" y="470.5" fill="#000000" style="font-family:'Liberation Sans','IPAGothic',sans-serif;font-size:12px;font-size:12px">197.493</text>
<text x="439.05 445.25 451.45 459.30 463.85 470.05 476.40" y="225.1" fill="#000000" style="font-family:'Liberation Sans','IPAGothic',sans-serif;font-size:12px;font-size:12px">205.331</text>
<text x="502.05 508.25 514.45 522.30 526.85 533.05 539.25" y="374.8" fill="#000000" style="font-family:'Liberation Sans','IPAGothic',sans-serif;font-size:12px;font-size:12px">200.687</text>
<text x="556.05 562.25 568.45 576.30 580.85 587.05 593.25" y="257.5" fill="#000000" style="font-family:'Liberation Sans','IPAGothic',sans-serif;font-size:12px;font-size:12px">204.249</text>
<text x="619.20 625.25 631.45 639.30 643.85 650.05 656.25" y="423.1" fill="#000000" style="font-family:'Liberation Sans','IPAGothic',sans-serif;font-size:12px;font-size:12px">199.073</text>
<text x="900.25 906.60 912.65 920.50 925.05 931.25" y="89.9" fill="#000000" style="font-family:'Liberation Sans','IPAGothic',sans-serif;font-size:12px;font-size:12px">210.00</text>
<text x="900.25 906.45 912.65 920.50 925.05 931.25" y="164.9" fill="#000000" style="font-family:'Liberation Sans','IPAGothic',sans-serif;font-size:12px;font-size:12px">207.50</text>
<text x="900.25 906.45 912.65 920.50 925.05 931.25" y="239.9" fill="#000000" style="font-family:'Liberation Sans','IPAGothic',sans-serif;font-size:12px;font-size:12px">205.00</text>
<text x="900.25 906.45 912.65 920.50 925.05 931.25" y="314.9" fill="#000000" style="font-family:'Liberation Sans','IPAGothic',sans-serif;font-size:12px;font-size:12px">202.50</text>
<text x="900.25 906.45 912.65 920.50 925.05 931.25" y="389.9" fill="#000000" style="font-family:'Liberation Sans','IPAGothic',sans-serif;font-size:12px;font-size:12px">200.00</text>
<text x="900.40 906.45 912.65 920.50 925.05 931.25" y="464.9" fill="#000000" style="font-family:'Liberation Sans','IPAGothic',sans-serif;font-size:12px;font-size:12px">197.50</text>
<text x="900.40 906.45 912.65 920.50 925.05 931.25" y="539.9" fill="#000000" style="font-family:'Liberation Sans','IPAGothic',sans-serif;font-size:12px;font-size:12px">195.00</text>
<text x="903.25 911.10 915.65 921.85 928.05" y="612.9" fill="#000000" style="font-family:'Liberation Sans','IPAGothic',sans-serif;font-size:12px;font-size:12px">2.500</text>
<text x="903.25 911.10 915.65 921.85 928.05" y="616.9" fill="#000000" style="font-family:'Liberation Sans','IPAGothic',sans-serif;font-size:12px;font-size:12px">2.500</text>
<text x="903.40 911.10 915.65 921.85 928.05" y="662.9" fill="#000000" style="font-family:'Liberation Sans','IPAGothic',sans-serif;font-size:12px;font-size:12px">1.250</text>
<text x="900.50 905.60 913.30 917.85 924.05 930.25" y="752.9" fill="#000000" style="font-family:'Liberation Sans','IPAGothic',sans-serif;font-size:12px;font-size:12px">-1.250</text>
<text x="900.50 905.45 913.30 917.85 924.05 930.25" y="802.9" fill="#000000" style="font-family:'Liberation Sans','IPAGothic',sans-serif;font-size:12px;font-size:12px">-2.500</text>
<text x="27.15 33.35 39.55 45.75 52.40 64.35 71.00" y="814.8" fill="#000000" style="font-family:'Liberation Sans','IPAGothic',sans-serif;font-size:12px;font-size:12px">2025年8月</text>
<text x="216.15 222.35 228.55 234.75 241.40 253.35 260.00" y="814.8" fill="#000000" style="font-family:'Liberation Sans','IPAGothic',sans-serif;font-size:12px;font-size:12px">2025年9月</text>
<text x="414.15 420.35 426.55 432.75 439.40 451.50 457.55 464.20" y="814.8" fill="#000000" style="font-family:'Liberation Sans','IPAGothic',sans-serif;font-size:12px;font-size:12px">2025年10月</text>
<text x="621.15 627.35 633.55 639.75 646.40 658.50 664.70 671.20" y="814.8" fill="#000000" style="font-family:'Liberation Sans','IPAGothic',sans-serif;font-size:12px;font-size:12px">2025年11月</text>
<text x="801.15 807.35 813.55 819.75 826.40 838.50 844.55 851.20" y="814.8" fill="#000000" style="font-family:'Liberation Sans','IPAGothic',sans-serif;font-size:12px;font-size:12px">2025年12月</text>
<text x="576.40" y="251.0" fill="#ff00ff" style="font-family:'Liberation Sans','IPAGothic',sans-serif;font-size:12px;font-size:12px">1</text>
<text x="639.25" y="274.0" fill="#ff00ff" style="font-family:'Liberation Sans','IPAGothic',sans-serif;font-size:12px;font-size:12px">2</text>
<text x="674.75" y="96.8" fill="#ff00ff" style="font-family:'Liberation Sans','IPAGothic',sans-serif;font-size:12px;font-size:12px">3</text>
<text x="755.75" y="196.0" fill="#ff00ff" style="font-family:'Liberation Sans','IPAGothic',sans-serif;font-size:12px;font-size:12px">2</text>
</g>
<g fill="#ffb6c1" shape-rendering="geometricPrecision">
<rect x="1" y="704.8" width="6.6" height="12.4"/>
<rect x="10" y="704.8" width="6.6" height="13.4"/>
<rect x="19" y="704.8" width="6.6" height="8.7"/>
<rect x="28" y="704.8" width="6.6" height="16.8"/>
<rect x="37" y="704.8" width="6.6" height="23.1"/>
<rect x="46" y="704.8" width="6.6" height="22.4"/>
<rect x="55" y="704.8" width="6.6" height="17.8"/>
<rect x="64" y="704.8" width="6.6" height="10.4"/>
<rect x="73" y="704.8" width="6.6" height="1.6"/>
<rect x="82" y="697.3" width="6.6" height="8.5"/>
<rect x="91" y="691.0" width="6.6" height="14.8"/>
<rect x="100" y="684.6" width="6.6" height="21.2"/>
<rect x="109" y="683.6" width="6.6" height="22.2"/>
<rect x="118" y="685.4" width="6.6" height="20.4"/>
<rect x="127" y="688.9" width="6.6" height="16.9"/>
<rect x="136" y="694.3" width="6.6" height="11.5"/>
<rect x="145" y="703.2" width="6.6" height="2.6"/>
<rect x="154" y="704.8" width="6.6" height="2.9"/>
<rect x="163" y="704.8" width="6.6" height="5.7"/>
<rect x="172" y="704.8" width="6.6" height="8.2"/>
<rect x="181" y="704.8" width="6.6" height="9.2"/>
<rect x="190" y="704.8" width="6.6" height="7.7"/>
<rect x="199" y="704.8" width="6.6" height="7.9"/>
<rect x="208" y="704.8" width="6.6" height="7.1"/>
<rect x="217" y="704.8" width="6.6" height="4.1"/>
<rect x="226" y="704.8" width="6.6" height="3.9"/>
<rect x="235" y="704.8" width="6.6" height="2.3"/>
<rect x="244" y="703.9" width="6.6" height="1.9"/>
<rect x="253" y="703.6" width="6.6" height="2.2"/>
<rect x="262" y="701.1" width="6.6" height="4.7"/>
<rect x="271" y="701.4" width="6.6" height="4.4"/>
<rect x="280" y="701.6" width="6.6" height="4.2"/>
<rect x="289" y="700.8" width="6.6" height="5.0"/>
<rect x="298" y="699.8" width="6.6" height="6.0"/>
<rect x="307" y="698.9" width="6.6" height="6.9"/>
<rect x="316" y="701.1" width="6.6" height="4.7"/>
<rect x="325" y="701.1" width="6.6" height="4.7"/>
<rect x="334" y="700.7" width="6.6" height="5.1"/>
<rect x="343" y="704.8" width="6.6" height="1.8"/>
<rect x="352" y="704.8" width="6.6" height="3.3"/>
<rect x="361" y="704.8" width="6.6" height="5.1"/>
<rect x="370" y="704.8" width="6.6" height="3.6"/>
<rect x="379" y="704.8" width="6.6" height="4.1"/>
<rect x="388" y="704.8" width="6.6" height="2.8"/>
<rect x="397" y="704.8" width="6.6" height="4.4"/>
<rect x="406" y="704.8" width="6.6" height="8.2"/>
<rect x="415" y="704.8" width="6.6" height="13.0"/>
<rect x="424" y="704.8" width="6.6" height="15.5"/>
<rect x="433" y="704.8" width="6.6" height="14.0"/>
<rect x="442" y="702.9" width="6.6" height="2.9"/>
<rect x="451" y="686.6" width="6.6" height="19.2"/>
<rect x="460" y="674.0" width="6.6" height="31.8"/>
<rect x="469" y="671.9" width="6.6" height="33.9"/>
<rect x="478" y="677.3" width="6.6" height="28.5"/>
<rect x="487" y="682.1" width="6.6" height="23.7"/>
<rect x="496" y="691.3" width="6.6" height="14.5"/>
<rect x="505" y="699.3" width="6.6" height="6.5"/>
<rect x="514" y="704.8" width="6.6" height="4.9"/>
<rect x="523" y="704.8" width="6.6" height="9.6"/>
<rect x="532" y="704.8" width="6.6" height="11.6"/>
<rect x="541" y="704.8" width="6.6" height="9.7"/>
<rect x="550" y="704.8" width="6.6" height="7.4"/>
<rect x="559" y="704.8" width="6.6" height="4.9"/>
<rect x="568" y="704.8" width="6.6" height="2.3"/>
<rect x="577" y="701.9" width="6.6" height="3.9"/>
<rect x="586" y="704.8" width="6.6" height="5.4"/>
<rect x="595" y="704.8" width="6.6" height="11.2"/>
<rect x="604" y="704.8" width="6.6" height="10.8"/>
<rect x="613" y="704.8" width="6.6" height="11.4"/>
<rect x="622" y="704.8" width="6.6" height="10.5"/>
<rect x="631" y="704.8" width="6.6" height="19.3"/>
<rect x="640" y="704.8" width="6.6" height="19.9"/>
<rect x="649" y="704.8" width="6.6" height="18.8"/>
<rect x="658" y="704.8" width="6.6" height="13.7"/>
<rect x="667" y="704.8" width="6.6" height="6.2"/>
<rect x="676" y="704.8" width="6.6" height="2.9"/>
<rect x="685" y="699.9" width="6.6" height="5.9"/>
<rect x="694" y="694.8" width="6.6" height="11.0"/>
<rect x="703" y="692.8" width="6.6" height="13.0"/>
<rect x="712" y="690.0" width="6.6" height="15.8"/>
<rect x="721" y="688.4" width="6.6" height="17.4"/>
<rect x="730" y="687.2" width="6.6" height="18.6"/>
<rect x="739" y="686.2" width="6.6" height="19.6"/>
<rect x="748" y="690.1" width="6.6" height="15.7"/>
<rect x="757" y="691.9" width="6.6" height="13.9"/>
<rect x="766" y="694.5" width="6.6" height="11.3"/>
<rect x="775" y="691.7" width="6.6" height="14.1"/>
<rect x="784" y="692.3" width="6.6" height="13.5"/>
<rect x="793" y="694.8" width="6.6" height="11.0"/>
<rect x="802" y="702.3" width="6.6" height="3.5"/>
<rect x="811" y="704.8" width="6.6" height="3.0"/>
<rect x="820" y="704.8" width="6.6" height="1.6"/>
<rect x="829" y="704.8" width="6.6" height="2.3"/>
<rect x="838" y="704.8" width="6.6" height="2.9"/>
<rect x="847" y="703.9" width="6.6" height="1.9"/>
<rect x="856" y="700.8" width="6.6" height="5.0"/>
<rect x="865" y="698.6" width="6.6" height="7.2"/>
<rect x="874" y="698.1" width="6.6" height="7.7"/>
</g>
<polyline points="0.0,693.5 3.5,694.5 12.5,697.8 21.5,695.5 30.5,707.4 39.5,718.3 48.5,721.8 57.5,721.8 66.5,717.5 75.5,710.4 84.5,703.6 93.5,697.3 102.5,690.2 111.5,686.6 120.5,684.6 129.5,683.8 138.5,685.4 147.5,691.0 156.5,691.7 165.5,693.5 174.5,696.0 183.5,697.8 192.5,697.8 201.5,699.8 210.5,701.0 219.5,699.3 228.5,700.3 237.5,699.3 246.5,698.5 255.5,698.5 264.5,696.0 273.5,696.0 282.5,695.7 291.5,694.2 300.5,692.2 309.5,690.2 318.5,691.4 327.5,690.4 336.5,689.0 345.5,692.7 354.5,694.2 363.5,696.0 372.5,694.7 381.5,695.5 390.5,694.7 399.5,696.8 408.5,701.8 417.5,708.7 426.5,713.7 435.5,714.0 444.5,699.8 453.5,682.0 462.5,666.4 471.5,661.0 480.5,662.6 489.5,662.3 498.5,666.4 507.5,669.4 516.5,674.0 525.5,677.0 534.5,679.0 543.5,678.3 552.5,677.8 561.5,676.5 570.5,675.7 579.5,673.2 588.5,680.8 597.5,688.4 606.5,689.2 615.5,691.4 624.5,692.2 633.5,703.6 642.5,708.0 651.5,710.7 660.5,709.4 669.5,704.4 678.5,702.3 687.5,697.3 696.5,692.7 705.5,690.2 714.5,685.4 723.5,680.8 732.5,675.0 741.5,669.4 750.5,669.0 759.5,667.0 768.5,666.4 777.5,660.0 786.5,657.3 795.5,656.8 804.5,662.3 813.5,664.4 822.5,662.6 831.5,663.0 840.5,663.6 849.5,661.3 858.5,658.0 867.5,655.5 876.5,654.7" fill="none" stroke="#00ffff" stroke-width="2.3" shape-rendering="geometricPrecision" stroke-linejoin="round" />
<polyline points="0.0,682.7 3.5,683.7 12.5,686.0 21.5,688.4 30.5,692.2 39.5,696.8 48.5,701.0 57.5,705.6 66.5,708.7 75.5,710.4 84.5,710.7 93.5,710.7 102.5,710.0 111.5,707.4 120.5,703.6 129.5,699.3 138.5,695.5 147.5,692.2 156.5,690.4 165.5,689.4 174.5,689.4 183.5,690.2 192.5,691.7 201.5,693.5 210.5,695.5 219.5,696.8 228.5,698.0 237.5,698.6 246.5,699.0 255.5,699.3 264.5,699.3 273.5,699.0 282.5,698.5 291.5,697.8 300.5,696.8 309.5,695.7 318.5,694.7 327.5,693.7 336.5,692.7 345.5,692.5 354.5,692.5 363.5,692.5 372.5,692.7 381.5,693.0 390.5,693.5 399.5,694.0 408.5,695.2 417.5,697.3 426.5,699.8 435.5,701.6 444.5,701.3 453.5,699.8 462.5,696.8 471.5,693.5 480.5,689.7 489.5,684.6 498.5,679.5 507.5,674.5 516.5,670.7 525.5,669.0 534.5,669.0 543.5,670.2 552.5,672.0 561.5,673.2 570.5,675.0 579.5,675.7 588.5,677.0 597.5,678.8 606.5,680.0 615.5,681.6 624.5,683.3 633.5,685.9 642.5,689.7 651.5,693.5 660.5,697.3 669.5,699.8 678.5,701.0 687.5,701.8 696.5,702.3 705.5,701.8 714.5,699.8 723.5,696.8 732.5,692.2 741.5,687.6 750.5,683.3 759.5,679.5 768.5,676.3 777.5,672.7 786.5,669.4 795.5,666.4 804.5,664.4 813.5,663.0 822.5,662.6 831.5,662.3 840.5,662.3 849.5,661.8 858.5,661.6 867.5,661.3 876.5,661.0" fill="none" stroke="#00ff00" stroke-width="2.5" shape-rendering="geometricPrecision" stroke-linejoin="round" />
<rect x="9.5" y="32.5" width="189.5" height="23" fill="#4f4c66" fill-opacity="0.94" stroke="#3f3c54" stroke-width="1"/>
<text x="10.8" y="47.8" style="font-family:'IPAGothic','Noto Sans CJK JP',sans-serif;font-size:12px;font-size:12.5px" fill="#000000" filter="url(#px)" textLength="121" lengthAdjust="spacingAndGlyphs">テクニカル指標リスト</text>
<g shape-rendering="auto"><rect x="181.5" y="34" width="15.5" height="15.5" rx="6" fill="#ecebf7"/><rect x="185.5" y="38.5" width="7.5" height="6.5" fill="#e6e6fa" stroke="#3a1a22" stroke-width="1.2"/><line x1="185" y1="39" x2="193.5" y2="39" stroke="#3a1a22" stroke-width="1.6"/></g>
<rect x="0" y="0" width="949" height="24" fill="#f0f0f0"/>
<g shape-rendering="geometricPrecision"><rect x="0.5" y="2.5" width="128" height="18.5" rx="3" fill="#ffffff" stroke="#c2c2c2" stroke-width="1"/>
<polyline points="117.2,11 121.2,15 125.2,11" fill="none" stroke="#6a6a6a" stroke-width="1"/></g>
<g shape-rendering="geometricPrecision"><rect x="133.5" y="2.5" width="70" height="18.5" rx="3" fill="#ffffff" stroke="#c2c2c2" stroke-width="1"/>
<polyline points="192.2,11 196.2,15 200.2,11" fill="none" stroke="#6a6a6a" stroke-width="1"/></g>
<g shape-rendering="geometricPrecision"><rect x="209.5" y="2.5" width="94" height="18.5" rx="3" fill="#ffffff" stroke="#c2c2c2" stroke-width="1"/>
<polyline points="292.2,11 296.2,15 300.2,11" fill="none" stroke="#6a6a6a" stroke-width="1"/></g>
<g shape-rendering="geometricPrecision"><rect x="309.5" y="2.5" width="63" height="18.5" rx="3" fill="#ffffff" stroke="#8a8a8a" stroke-width="1"/>
<polyline points="361.2,11 365.2,15 369.2,11" fill="none" stroke="#6a6a6a" stroke-width="1"/></g>
<rect x="1" y="4" width="109" height="16" fill="#000000"/>
<rect x="311" y="4" width="43" height="16" fill="#000000"/>
<g shape-rendering="geometricPrecision">
<clipPath id="uk"><rect x="3" y="7" width="16" height="11"/></clipPath>
<g clip-path="url(#uk)">
<rect x="3" y="7" width="16" height="11" fill="#1c1c84"/>
<path d="M3 7 L19 18 M19 7 L3 18" stroke="#ffffff" stroke-width="2"/>
<path d="M3 7 L19 18 M19 7 L3 18" stroke="#e8102a" stroke-width="1"/>
<path d="M11 7 V18 M3 12.5 H19" stroke="#ffffff" stroke-width="3"/>
<path d="M11 7 V18 M3 12.5 H19" stroke="#e8102a" stroke-width="1.8"/>
</g>
<rect x="25" y="7" width="16" height="11" fill="#ffffff" stroke="#b0b0b0" stroke-width="0.8"/>
<circle cx="33" cy="12.5" r="3.9" fill="#ff0000"/>
</g>
<text x="20.8" y="17.3" style="font-family:'Liberation Sans','IPAGothic',sans-serif;font-size:12px" fill="#ffffff">/</text>
<text x="43.5" y="17.6" style="font-family:'Liberation Sans','IPAGothic',sans-serif;font-size:12px;font-size:12.5px" fill="#ffffff" textLength="51" lengthAdjust="spacingAndGlyphs">GBP/JPY</text>
<text x="137" y="17" style="font-family:'IPAGothic','Noto Sans CJK JP',sans-serif;font-size:12px;font-size:13px" fill="#000000" filter="url(#px)" textLength="23.5" lengthAdjust="spacingAndGlyphs">日足</text>
<text x="213" y="17" style="font-family:'IPAGothic','Noto Sans CJK JP',sans-serif;font-size:12px;font-size:13px" fill="#000000" filter="url(#px)" textLength="36.5" lengthAdjust="spacingAndGlyphs">ローソク</text>
<g stroke="#ffffff" stroke-width="1.6" fill="none" shape-rendering="geometricPrecision"><rect x="322" y="9" width="6.4" height="7"/><line x1="325.2" y1="6" x2="325.2" y2="9"/><line x1="325.2" y1="16" x2="325.2" y2="19"/></g>
<g shape-rendering="auto"><rect x="378.5" y="3.5" width="157" height="17" rx="3" fill="#ffffff" stroke="#d0d0d0" stroke-width="1"/>
<rect x="546.5" y="3.5" width="61" height="19" rx="3.5" fill="#fdfdfd" stroke="#d0d0d0" stroke-width="1"/></g>
<text x="380" y="17" style="font-family:'IPAGothic','Noto Sans CJK JP',sans-serif;font-size:12px;font-size:13px" fill="#000000" filter="url(#px)" textLength="60" lengthAdjust="spacingAndGlyphs">トレンドライン</text>
<text x="561" y="17.5" style="font-family:'IPAGothic','Noto Sans CJK JP',sans-serif;font-size:12px;font-size:13px" fill="#000000" filter="url(#px)" textLength="32" lengthAdjust="spacingAndGlyphs">設定...</text>
</svg>
</body></html>
